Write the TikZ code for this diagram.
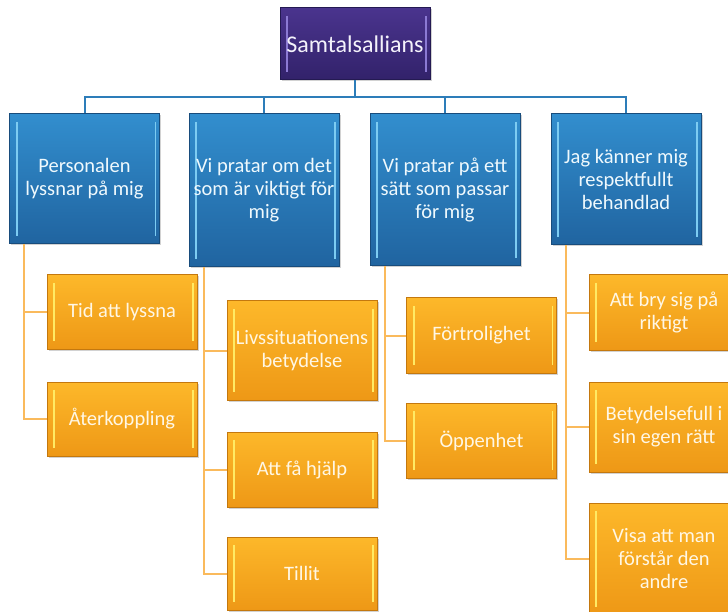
\documentclass[tikz,border=0pt]{standalone}
\usepackage{fontspec}
\setmainfont{Carlito}
\usepackage{xcolor}
\usepackage{tikz}
\usetikzlibrary{shadows}
\definecolor{SamPurple}{RGB}{74, 52, 142}
\definecolor{SamPurpleDark}{RGB}{50, 34, 106}
\definecolor{SamPurpleEdge}{RGB}{36, 26, 82}
\definecolor{SamPurpleLight}{RGB}{140, 122, 212}
\definecolor{SamBlueTop}{RGB}{50, 142, 206}
\definecolor{SamBlueBot}{RGB}{32, 100, 160}
\definecolor{SamBlueEdge}{RGB}{24, 76, 124}
\definecolor{SamBlueLight}{RGB}{125, 204, 242}
\definecolor{SamOrangeTop}{RGB}{253, 184, 42}
\definecolor{SamOrangeBot}{RGB}{238, 152, 22}
\definecolor{SamOrangeEdge}{RGB}{196, 120, 14}
\definecolor{SamOrangeLight}{RGB}{255, 234, 100}
\definecolor{SamBlueLine}{RGB}{45, 125, 185}
\definecolor{SamOrangeLine}{RGB}{250, 186, 92}

\tikzset{
  sidelights/.style={path picture={
    \draw[#1, line width=2pt] ([shift={(7pt,-8pt)}]path picture bounding box.north west) -- ([shift={(7pt,8pt)}]path picture bounding box.south west);
    \draw[#1, line width=1.5pt] ([shift={(-4pt,-8pt)}]path picture bounding box.north east) -- ([shift={(-4pt,8pt)}]path picture bounding box.south east);
  }},
  sambox/.style={draw, line width=1pt, align=center, inner sep=2pt, minimum width=150pt,
    font=\fontsize{20.5}{23}\selectfont,
    drop shadow={opacity=0.35, shadow xshift=1.5pt, shadow yshift=-1.5pt}},
  rootbox/.style={sambox, top color=SamPurple, bottom color=SamPurpleDark, draw=SamPurpleEdge,
    text=white!90!SamPurpleLight, font=\fontsize{24}{28}\selectfont, sidelights=SamPurpleLight},
  themebox/.style={sambox, top color=SamBlueTop, bottom color=SamBlueBot, draw=SamBlueEdge,
    text=white!88!SamBlueLight, sidelights=SamBlueLight},
  itembox/.style={sambox, top color=SamOrangeTop, bottom color=SamOrangeBot, draw=SamOrangeEdge,
    text=white!88!SamOrangeTop, sidelights=SamOrangeLight},
  blueline/.style={SamBlueLine, line width=2pt},
  orangeline/.style={SamOrangeLine, line width=2pt}
}

\begin{document}
\begin{tikzpicture}[x=1pt,y=-1pt]
  \useasboundingbox (0,0) rectangle (728,612);
  \fill[white] (0,0) rectangle (728,612);
  \clip (0,0) rectangle (728,612);

  % top
  \node[rootbox, minimum height=72pt] (root) at (355,44) {Samtalsallians};

  % themes
  \node[themebox, minimum height=130pt] (pers) at (84.5,179) {Personalen\\lyssnar på mig};
  \node[themebox, minimum height=153pt] (prat) at (264,190.5) {Vi pratar om det\\som är viktigt för\\mig};
  \node[themebox, minimum height=152pt] (satt) at (445,190) {Vi pratar på ett\\sätt som passar\\för mig};
  \node[themebox, minimum height=131pt] (resp) at (626,179.5) {Jag känner mig\\respektfullt\\behandlad};

  % items
  \node[itembox, minimum height=74pt] (tid) at (122,312) {Tid att lyssna};
  \node[itembox, minimum height=74pt] (ater) at (122,419) {Återkoppling};
  \node[itembox, minimum height=99pt] (livs) at (302,350.5) {Livssituationens\\betydelse};
  \node[itembox, minimum height=75pt] (hjalp) at (302,469.5) {Att få hjälp};
  \node[itembox, minimum height=73pt] (tillit) at (302,573.5) {Tillit};
  \node[itembox, minimum height=75pt] (fort) at (481.5,335.5) {Förtrolighet};
  \node[itembox, minimum height=75pt] (oppen) at (481.5,440.5) {Öppenhet};
  \node[itembox, minimum height=75pt] (bry) at (664,312.5) {Att bry sig på\\riktigt};
  \node[itembox, minimum height=90pt] (betyd) at (664,427) {Betydelsefull i\\sin egen rätt};
  \node[itembox, minimum height=112pt] (visa) at (664,559) {Visa att man\\förstår den\\andre};

  \draw[blueline] (root.south) -- ++(0,17) coordinate (bus);
  \foreach \n in {pers,prat,satt,resp}{
    \draw[blueline] (bus) -| (\n.north);
  }
  \foreach \p/\c in {pers/tid, pers/ater, prat/livs, prat/hjalp, prat/tillit,
                     satt/fort, satt/oppen, resp/bry, resp/betyd, resp/visa}{
    \draw[orangeline] ([xshift=15pt]\p.south west) |- (\c.west);
  }
\end{tikzpicture}
\end{document}
